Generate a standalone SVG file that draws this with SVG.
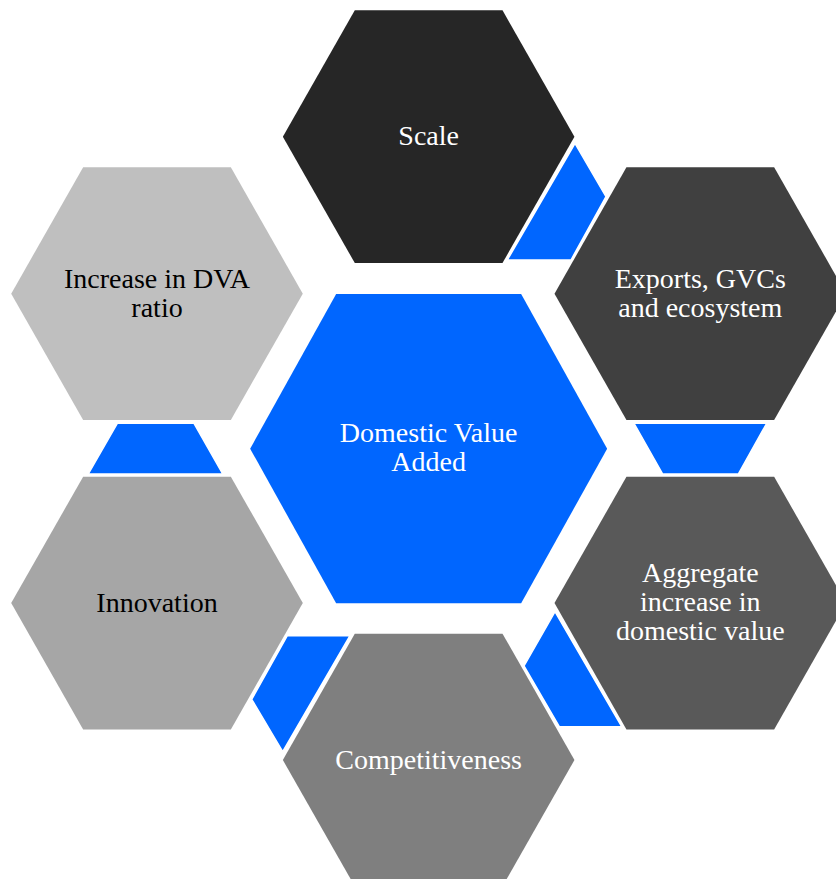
<svg xmlns="http://www.w3.org/2000/svg" xmlns:xlink="http://www.w3.org/1999/xlink" width="836" height="879" viewBox="0 0 836 879">
  <style>
    .lbl { font-family: "Liberation Serif", "Times New Roman", serif; font-size: 28px; text-anchor: middle; }
    .w { fill: #ffffff; }
    .k { fill: #000000; }
    .conn { fill: #0066ff; stroke: #ffffff; stroke-width: 1.5; stroke-linejoin: miter; }
  </style>
  <defs>
    <polygon id="hex" points="-145.8,0 -73.85,-126.35 73.85,-126.35 145.8,0 73.85,126.35 -73.85,126.35"/>
  </defs>
  <rect width="836" height="879" fill="#ffffff"/>

  <g id="connectors">
    <polygon class="conn" points="575,143.3 606,196.7 571,260 507.3,260"/>
    <polygon class="conn" points="634,423.3 766.7,423.3 738.3,474 662.7,474"/>
    <polygon class="conn" points="555,611.7 621.7,726.7 559.3,726.7 524,666"/>
    <polygon class="conn" points="287.3,635.7 350,635.7 282.7,751.7 251.7,699.3"/>
    <polygon class="conn" points="117.3,423.3 194,423.3 222.7,474 88.3,474"/>
  </g>

  <g id="node-center">
    <polygon points="250.15,448.65 336.15,294 521.15,294 607.15,448.65 521.15,603.3 336.15,603.3" fill="#0066ff"/>
    <text class="lbl w" x="428.65" y="442">Domestic Value</text>
    <text class="lbl w" x="428.65" y="470.5">Added</text>
  </g>

  <g id="node-scale">
    <use xlink:href="#hex" href="#hex" transform="translate(428.65,136.65)" fill="#262626"/>
    <text class="lbl w" x="428.65" y="145.3">Scale</text>
  </g>

  <g id="node-exports">
    <use xlink:href="#hex" href="#hex" transform="translate(700.3,293.65)" fill="#404040"/>
    <text class="lbl w" x="700.3" y="287.8">Exports, GVCs</text>
    <text class="lbl w" x="700.3" y="316.8">and ecosystem</text>
  </g>

  <g id="node-aggregate">
    <use xlink:href="#hex" href="#hex" transform="translate(700.3,603.05)" fill="#595959"/>
    <text class="lbl w" x="700.3" y="582.3">Aggregate</text>
    <text class="lbl w" x="700.3" y="611.3">increase in</text>
    <text class="lbl w" x="700.3" y="640.3">domestic value</text>
  </g>

  <g id="node-competitiveness">
    <use xlink:href="#hex" href="#hex" transform="translate(428.65,760)" fill="#7f7f7f"/>
    <text class="lbl w" x="428.65" y="768.5">Competitiveness</text>
  </g>

  <g id="node-innovation">
    <use xlink:href="#hex" href="#hex" transform="translate(157,603.05)" fill="#a6a6a6"/>
    <text class="lbl k" x="157" y="611.8">Innovation</text>
  </g>

  <g id="node-dva-ratio">
    <use xlink:href="#hex" href="#hex" transform="translate(157,293.65)" fill="#bfbfbf"/>
    <text class="lbl k" x="157" y="287.8">Increase in DVA</text>
    <text class="lbl k" x="157" y="316.8">ratio</text>
  </g>
</svg>
